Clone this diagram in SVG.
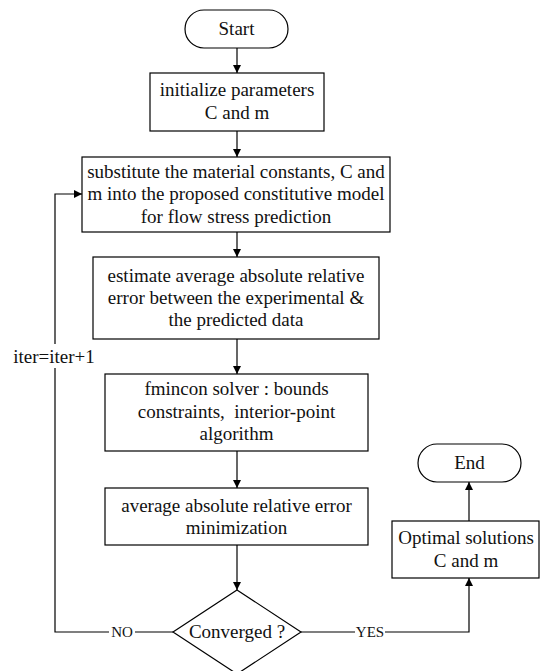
<svg xmlns="http://www.w3.org/2000/svg" width="540" height="671" viewBox="0 0 540 671">
<defs>
<marker id="ah" viewBox="0 0 10 10" refX="10" refY="5" markerWidth="8" markerHeight="8" markerUnits="userSpaceOnUse" orient="auto">
<path d="M0,0 L10,5 L0,10 z" fill="#000"/>
</marker>
<style>
.b{fill:#fff;stroke:#000;stroke-width:1.2}
.c{fill:none;stroke:#000;stroke-width:1.2}
</style>
</defs>
<rect width="540" height="671" fill="#fff"/>
<g id="connectors">
<line class="c" x1="237" y1="48" x2="237" y2="73" marker-end="url(#ah)"/>
<line class="c" x1="237" y1="131" x2="237" y2="157" marker-end="url(#ah)"/>
<line class="c" x1="237" y1="232" x2="237" y2="257" marker-end="url(#ah)"/>
<line class="c" x1="237" y1="339" x2="237" y2="374" marker-end="url(#ah)"/>
<line class="c" x1="237" y1="451" x2="237" y2="488" marker-end="url(#ah)"/>
<line class="c" x1="237" y1="545" x2="237" y2="590" marker-end="url(#ah)"/>
<polyline class="c" points="173,632 55,632 55,194 82,194" marker-end="url(#ah)"/>
<polyline class="c" points="301,632 469,632 469,578" marker-end="url(#ah)"/>
<line class="c" x1="469" y1="521" x2="469" y2="482" marker-end="url(#ah)"/>
<rect x="109" y="623" width="26" height="18" fill="#fff"/>
<text font-family="Liberation Serif" font-size="15" fill="#111" text-anchor="middle" x="122" y="637">NO</text>
<rect x="355" y="623" width="30" height="18" fill="#fff"/>
<text font-family="Liberation Serif" font-size="15" fill="#111" text-anchor="middle" x="370" y="637">YES</text>
<rect x="12" y="344" width="86" height="24" fill="#fff"/>
<text font-family="Liberation Serif" font-size="19" fill="#111" text-anchor="middle" x="54" y="363">iter=iter+1</text>
</g>
<g font-family="Liberation Serif" font-size="19" fill="#111" text-anchor="middle">
<g id="start">
<rect class="b" x="185" y="10" width="103" height="38" rx="19" ry="19"/>
<text x="236.5" y="35">Start</text>
</g>
<g id="init">
<rect class="b" x="150" y="73" width="174" height="58"/>
<text x="237" y="96">initialize parameters</text>
<text x="237" y="119">C and m</text>
</g>
<g id="substitute">
<rect class="b" x="82" y="157" width="308" height="75"/>
<text x="236" y="178">substitute the material constants, C and</text>
<text x="236" y="200">m into the proposed constitutive model</text>
<text x="236" y="223">for flow stress prediction</text>
</g>
<g id="estimate">
<rect class="b" x="93" y="257" width="286" height="82"/>
<text x="236" y="282">estimate average absolute relative</text>
<text x="236" y="304">error between the experimental &amp;</text>
<text x="236" y="326">the predicted data</text>
</g>
<g id="fmincon">
<rect class="b" x="105" y="374" width="263" height="77"/>
<text x="236.5" y="395">fmincon solver : bounds</text>
<text x="236.5" y="418" xml:space="preserve">constraints,  interior-point</text>
<text x="236.5" y="440">algorithm</text>
</g>
<g id="minimize">
<rect class="b" x="105" y="488" width="263" height="57"/>
<text x="236.5" y="512">average absolute relative error</text>
<text x="236.5" y="534">minimization</text>
</g>
<g id="converged">
<polygon class="b" points="237,590 301,632 237,674 173,632"/>
<text x="237" y="638">Converged ?</text>
</g>
<g id="optimal">
<rect class="b" x="392" y="521" width="147" height="57"/>
<text x="466" y="544">Optimal solutions</text>
<text x="466" y="567">C and m</text>
</g>
<g id="end">
<rect class="b" x="418" y="444" width="103" height="38" rx="19" ry="19"/>
<text x="469.5" y="469">End</text>
</g>
</g>
</svg>
